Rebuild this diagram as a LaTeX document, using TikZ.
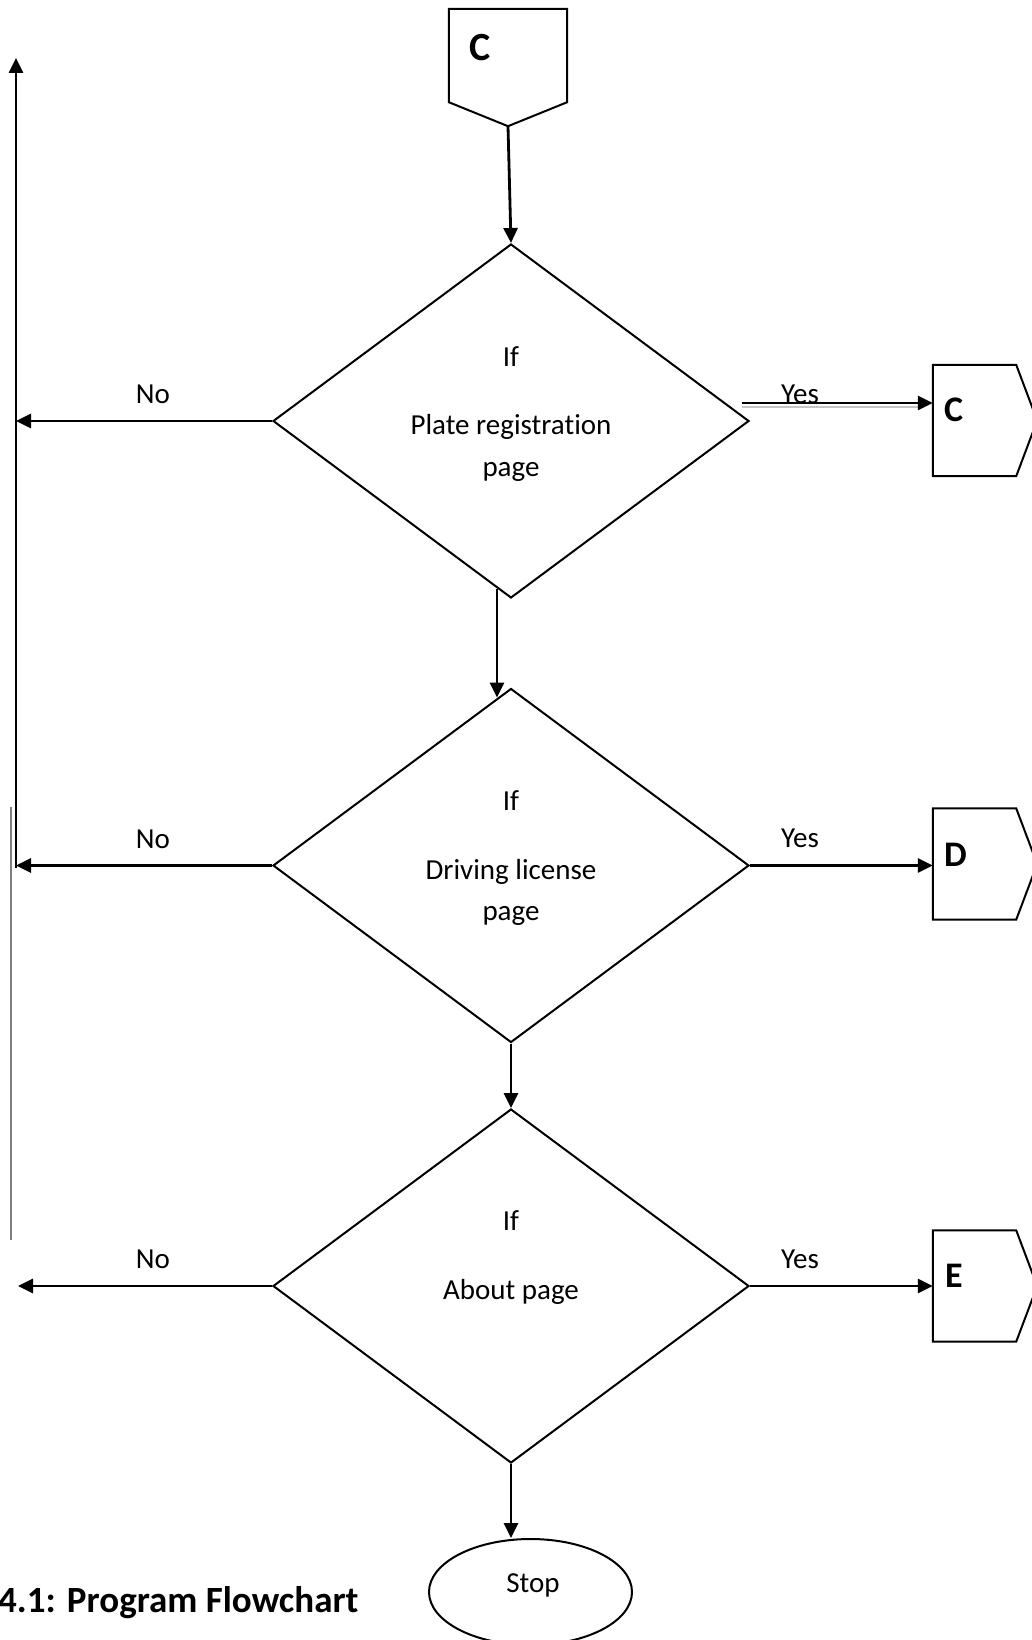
\documentclass[tikz,border=0pt]{standalone}
\usepackage{fontspec}
\setmainfont[Ligatures=NoCommon]{Carlito}
\usetikzlibrary{shapes.geometric,arrows.meta,calc}
\begin{document}
\begin{tikzpicture}[x=1pt,y=-1pt,
  font=\fontsize{29}{35}\selectfont,
  decision/.style={draw, diamond, line width=2pt, minimum width=476pt, minimum height=354pt, inner sep=0pt},
  flow/.style={line width=2.8pt, -{Triangle[length=15pt,width=14pt]}},
  outline/.style={draw, line width=2pt},
  connbox/.style={rectangle, minimum width=83pt, minimum height=111pt, inner sep=0pt},
  txt/.style={anchor=base, inner sep=0pt},
  lettr/.style={anchor=base west, inner sep=0pt, font=\fontsize{36}{40}\selectfont\bfseries},
  terminal/.style={draw, ellipse, line width=2pt, minimum width=203pt, minimum height=106pt, inner sep=0pt}
]
\useasboundingbox (0,0) rectangle (1031,1640);

% top off-page connector
\node[connbox, minimum width=118pt, minimum height=93pt] (ctop) at (508,55.5) {};
\coordinate (ctip) at ($(ctop.south)+(0,24)$);
\draw[outline] (ctop.north west) -- (ctop.north east) -- (ctop.south east) -- (ctip) -- (ctop.south west) -- cycle;
\node[lettr, font=\fontsize{40}{44}\selectfont\bfseries] (ctopl) at (469,61) {C};

% decisions
\node[decision] (d1) at (511,421) {};
\node[decision] (d2) at (511,865.5) {};
\node[decision] (d3) at (511,1286) {};

\node[txt] (d1a) at (511,366) {If};
\node[txt] (d1b) at (511,434) {Plate registration};
\node[txt] (d1c) at (511,476) {page};
\node[txt] (d2a) at (511,810) {If};
\node[txt] (d2b) at (511,879) {Driving license};
\node[txt] (d2c) at (511,920) {page};
\node[txt] (d3a) at (511,1230) {If};
\node[txt] (d3b) at (511,1299) {About page};

% stop
\node[terminal] (stop) at (530.5,1592) {};
\node[txt] (stopt) at (533,1592) {Stop};

% right connectors
\node[connbox] (cr1) at (974.5,420.5) {};
\node[connbox] (cr2) at (974.5,864) {};
\node[connbox] (cr3) at (974.5,1286) {};
\foreach \n in {cr1,cr2,cr3}{
  \draw[outline] (\n.north west) -- (\n.north east) -- ($(\n.east)+(21,0)$) -- (\n.south east) -- (\n.south west) -- cycle;
}
\node[lettr] (cr1l) at (944,421) {C};
\node[lettr] (cr2l) at (944,866) {D};
\node[lettr] (cr3l) at (945,1287) {E};

% vertical flow
\draw[flow] (ctip) -- (d1.north);
\draw[flow] ($(d1.south)+(-14,-10)$) -- ($(d2.north)+(-14,10)$);
\draw[flow] (d2.south) -- (d3.north);
\draw[flow] (d3.south) -- (d3.south |- stop.north);

% yes branches
\coordinate (y1s) at ($(d1.east)+(-8,-18)$);
\draw[gray!45, line width=2pt] ($(y1s)+(0,3.5)$) -- ++(180,0);
\draw[flow] (y1s) -- (y1s -| cr1.west);
\draw[flow] (d2.east) -- (d2.east -| cr2.west);
\draw[flow] (d3.east) -- (d3.east -| cr3.west);
\node[txt] (yes1) at (800,403) {Yes};
\node[txt] (yes2) at (800,847) {Yes};
\node[txt] (yes3) at (800,1268) {Yes};

% left return line
\coordinate (ltop) at (16,58);
\coordinate (lbot) at (16,868);
\draw[flow] (lbot) -- (ltop);
\coordinate (g1) at (11,807);
\coordinate (g2) at (11,1240);
\draw[gray, line width=1.5pt] (g1) -- (g2);
\coordinate (n3) at (18,1287);

% no branches
\draw[flow] (d1.west) -- (d1.west -| ltop);
\draw[flow] (d2.west) -- (d2.west -| ltop);
\draw[flow] (d3.west) -- (d3.west -| n3);
\node[txt] (no1) at (153,403) {No};
\node[txt] (no2) at (153,848) {No};
\node[txt] (no3) at (153,1268) {No};

% caption
\node[anchor=base west, inner sep=0pt, font=\fontsize{37}{44}\selectfont\bfseries] (cap) at (-2,1612) {4.1: Program Flowchart};
\end{tikzpicture}
\end{document}
